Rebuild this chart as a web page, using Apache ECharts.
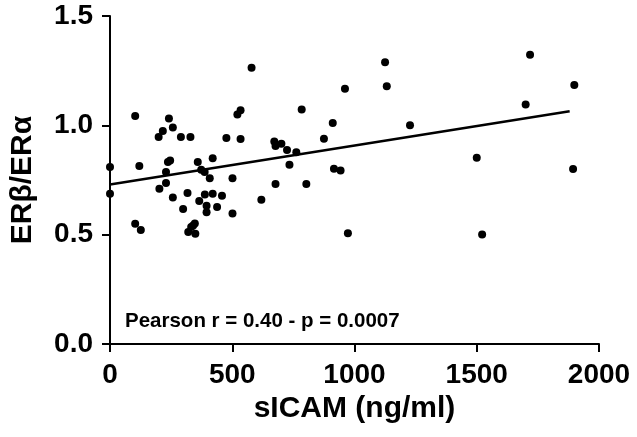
<!DOCTYPE html>
<html>
<head>
<meta charset="utf-8">
<script src="https://cdn.jsdelivr.net/npm/echarts@6/dist/echarts.min.js"></script>
<style>
  html, body { margin: 0; padding: 0; background: #fff; }
  #main { width: 637px; height: 437px; }
</style>
</head>
<body>
<div id="main"></div>
<script>
// sICAM (ng/ml) vs ERb/ERa
var sicam = [0, 0, 103, 120, 103, 126, 199, 216, 241, 257, 290, 329, 237, 246, 229, 229, 202, 257, 299, 317,
  320, 332, 340, 349, 347, 359, 365, 373, 387, 395, 395, 388, 408, 420, 420, 438, 458, 476, 501, 501,
  521, 534, 534, 579, 619, 672, 677, 701, 677, 724, 734, 762, 784, 803, 875, 911, 916, 943, 961, 973,
  1125, 1132, 1227, 1500, 1522, 1700, 1718, 1899, 1894];
var ratio = [0.81, 0.687, 1.043, 0.814, 0.55, 0.521, 0.947, 0.974, 1.031, 0.99, 0.947, 0.947, 0.832, 0.839, 0.787, 0.736, 0.71, 0.67, 0.617, 0.69,
  0.512, 0.535, 0.542, 0.504, 0.551, 0.832, 0.654, 0.797, 0.787, 0.632, 0.602, 0.684, 0.758, 0.849, 0.687, 0.626, 0.678, 0.942, 0.758, 0.597,
  1.049, 1.069, 0.938, 1.263, 0.66, 0.926, 0.906, 0.916, 0.732, 0.887, 0.82, 0.877, 1.072, 0.732, 0.939, 1.011, 0.802, 0.793, 1.167, 0.507,
  1.289, 1.179, 1.0, 0.852, 0.501, 1.095, 1.323, 1.184, 0.8];

// linear fit line ends
var fitX = [0, 1880];
var fitY = [0.729, 1.064];

var xTicks = [0, 500, 1000, 1500, 2000];
var yTicks = [0, 0.5, 1.0, 1.5];
var pearsonText = 'Pearson r = 0.40 - p = 0.0007';

var font = "'Liberation Sans', Arial, sans-serif";

var points = sicam.map(function (x, i) { return [x, ratio[i]]; });
var fitLine = fitX.map(function (x, i) { return [x, fitY[i]]; });

var myChart = echarts.init(document.getElementById('main'));
var option = {
    backgroundColor: '#fff',
    animation: false,
    grid: { left: 110, right: 38, top: 16, bottom: 93 },
    xAxis: {
        type: 'value',
        min: xTicks[0],
        max: xTicks[xTicks.length - 1],
        interval: 500,
        name: 'sICAM (ng/ml)',
        nameLocation: 'middle',
        nameGap: 49,
        nameTextStyle: { fontFamily: font, fontWeight: 'bold', fontSize: 30, color: '#000' },
        axisLine: { lineStyle: { color: '#000', width: 2 } },
        axisTick: { show: true, inside: false, length: 8, lineStyle: { color: '#000', width: 2 } },
        axisLabel: {
            margin: 17, fontFamily: font, fontWeight: 'bold', fontSize: 28, color: '#000',
            formatter: function (v) { return String(v); }
        },
        splitLine: { show: false }
    },
    yAxis: {
        type: 'value',
        min: yTicks[0],
        max: yTicks[yTicks.length - 1],
        interval: 0.5,
        name: 'ERβ/ERα',
        nameLocation: 'middle',
        nameGap: 72,
        nameTextStyle: { fontFamily: font, fontWeight: 'bold', fontSize: 30, color: '#000' },
        axisLine: { show: true, lineStyle: { color: '#000', width: 2 } },
        axisTick: { show: true, inside: false, length: 8, lineStyle: { color: '#000', width: 2 } },
        axisLabel: {
            margin: 17, fontFamily: font, fontWeight: 'bold', fontSize: 28, color: '#000',
            formatter: function (v) { return v.toFixed(1); }
        },
        splitLine: { show: false }
    },
    graphic: [{
        type: 'text',
        left: 125,
        top: 311,
        style: { text: pearsonText, font: 'bold 20.5px ' + font, fill: '#000' }
    }],
    series: [{
        type: 'line',
        data: fitLine,
        symbol: 'none',
        lineStyle: { color: '#000', width: 2.5 },
        z: 2
    }, {
        type: 'scatter',
        data: points,
        symbol: 'circle',
        symbolSize: 8,
        itemStyle: { color: '#000', opacity: 1 },
        z: 3
    }]
};
myChart.setOption(option);
</script>
</body>
</html>
